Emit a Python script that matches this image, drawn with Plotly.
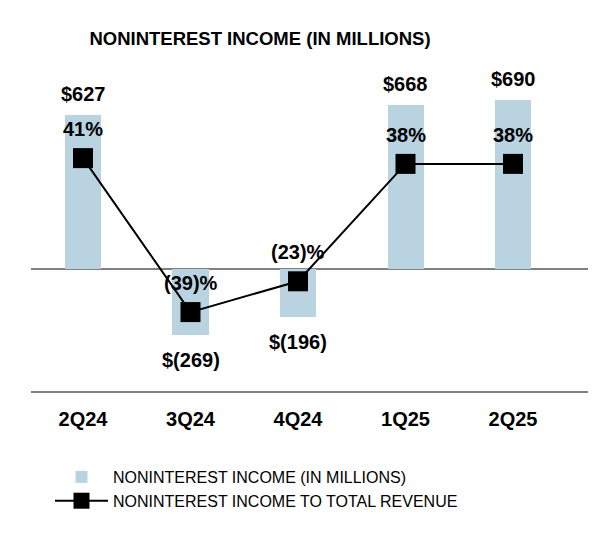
import plotly.graph_objects as go

quarters = ["2Q24", "3Q24", "4Q24", "1Q25", "2Q25"]
income_millions = [627, -269, -196, 668, 690]
income_to_revenue_pct = [41, -39, -23, 38, 38]

FONT = "Liberation Sans, Arial, sans-serif"
BAR_COLOR = "#B9D3E1"
GRAY = "#808080"
W, H = 588, 542  # page body adds an 8px margin


def money(v):
    return f"${v}" if v >= 0 else f"$({abs(v)})"


def pct(v):
    return f"{v}%" if v >= 0 else f"({abs(v)})%"


fig = go.Figure()
fig.add_trace(go.Bar(
    x=quarters, y=income_millions, name="NONINTEREST INCOME (IN MILLIONS)",
    marker=dict(color=BAR_COLOR, line=dict(width=0)), width=0.335,
))
fig.add_trace(go.Scatter(
    x=quarters, y=income_to_revenue_pct, yaxis="y2", mode="lines+markers",
    name="NONINTEREST INCOME TO TOTAL REVENUE",
    line=dict(color="black", width=2),
    marker=dict(symbol="square", size=20, color="black"),
))

annotations = []
for q, v in zip(quarters, income_millions):
    annotations.append(dict(
        x=q, y=v, xref="x", yref="y", text=money(v), showarrow=False,
        yshift=21 if v >= 0 else -25,
        font=dict(family=FONT, size=20, color="black", weight="bold"),
    ))
for q, p in zip(quarters, income_to_revenue_pct):
    annotations.append(dict(
        x=q, y=p, xref="x", yref="y2", text=pct(p), showarrow=False,
        yshift=29,
        font=dict(family=FONT, size=20, color="black", weight="bold"),
    ))

fig.update_layout(
    width=W, height=H,
    margin=dict(l=23, r=0, t=0, b=159, autoexpand=False),
    paper_bgcolor="white", plot_bgcolor="white",
    font=dict(family=FONT, color="black"),
    title=dict(
        text="<b>NONINTEREST INCOME (IN MILLIONS)</b>",
        font=dict(family=FONT, size=18.5, color="black"),
        x=252 / W, xanchor="center", xref="container",
        y=1 - 31 / H, yanchor="middle", yref="container",
    ),
    xaxis=dict(
        type="category",
        range=[-0.4837, 4.772], showgrid=False, zeroline=False,
        showline=True, linecolor=GRAY, linewidth=2, ticks="",
        tickfont=dict(family=FONT, size=20, color="black", weight="bold"),
        ticklabelstandoff=9, tickangle=0,
    ),
    yaxis=dict(
        range=[-498, 1065], showgrid=False, showticklabels=False,
        zeroline=True, zerolinecolor=GRAY, zerolinewidth=2, ticks="",
    ),
    yaxis2=dict(
        range=[-80, 119.0], overlaying="y", showgrid=False,
        showticklabels=False, zeroline=False, ticks="",
    ),
    showlegend=True,
    legend=dict(
        orientation="v", xref="container", yref="container",
        x=42 / W, xanchor="left", y=1 - 452 / H, yanchor="top",
        font=dict(family=FONT, size=16, color="black"),
        itemwidth=53, bgcolor="rgba(0,0,0,0)", traceorder="normal",
    ),
    annotations=annotations,
    bargap=0,
)

fig.write_html("out.html")
